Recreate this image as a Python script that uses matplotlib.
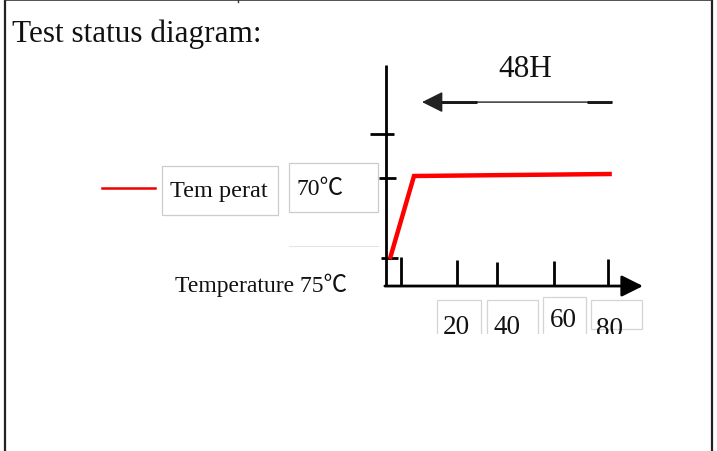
import matplotlib
matplotlib.use('Agg')
import matplotlib.pyplot as plt
from matplotlib.patches import Rectangle

# temperature profile (hours, deg C)
hours = [1.4, 10.1, 81.4]
temps = [17.5, 71.3, 72.6]
x_ticks = [5.4, 25.6, 40.0, 60.5, 80.0]
x_tick_len = [18.8, 16.9, 15.6, 16.2, 17.5]
y_ticks = [18.0, 70.0, 98.5]
y_tick_left = [-1.8, -2.5, -5.8]
y_tick_right = [4.3, 3.6, 2.9]
x_labels = ['20', '40', '60', '80']
duration = '48H'
duration_span = [81.4, 13.0]   # arrow drawn right -> left
y_top = 143.2
x_end = 92.6

TITLE = 'Test status diagram:'
SERIF = ['Liberation Serif', 'Noto Sans CJK SC', 'DejaVu Serif']

fig = plt.figure(figsize=(7.17, 4.52), dpi=100)

# layout canvas in pixel units (boxes, captions, frame)
bg = fig.add_axes([0, 0, 1, 1])
bg.set_xlim(0, 717)
bg.set_ylim(452, 0)
bg.axis('off')

# diagram axes in hours / deg C
ax = fig.add_axes([0, 0, 1, 1])
ax.set_xlim(-139.1, 119.3)
ax.set_ylim(-106.9, 186.0)
ax.axis('off')
ax.patch.set_visible(False)

# page frame
bg.plot([5, 5], [0, 452], color='#222222', lw=1.6)
bg.plot([711.5, 711.5], [0, 452], color='#222222', lw=1.6)
bg.plot([5, 711], [1, 1], color='#333333', lw=1.2)
bg.plot([238, 238], [0, 3], color='#333333', lw=1.0)

bg.text(12, 42, TITLE, fontsize=22.5, family=SERIF, va='baseline', ha='left', color='#111111')

# axes of the sketch
ax.plot([0, 0], [0, y_top], color='black', lw=2.0, solid_capstyle='butt')
ax.annotate('', xy=(x_end, 0), xytext=(-0.4, 0),
            arrowprops=dict(arrowstyle='-|>,head_length=1.0,head_width=0.5',
                            mutation_scale=13, lw=2.0, color='black',
                            shrinkA=0, shrinkB=0))
ax.vlines(x_ticks, 0, x_tick_len, color='black', lw=2.0)
ax.hlines(y_ticks, y_tick_left, y_tick_right, color='black', lw=2.0)

# temperature curve
ax.plot(hours, temps, color='#ff0000', lw=3.2, solid_joinstyle='miter', solid_capstyle='butt')

# duration arrow
arrow_y = 119.2
ax.annotate('', xy=(duration_span[1], arrow_y), xytext=(duration_span[0], arrow_y),
            arrowprops=dict(arrowstyle='-|>,head_length=1.0,head_width=0.5',
                            mutation_scale=13, lw=1.0, color='#222222',
                            shrinkA=0, shrinkB=0))
ax.plot([19.0, 32.8], [arrow_y, arrow_y], color='black', lw=2.0, solid_capstyle='butt')
ax.plot([72.4, 81.4], [arrow_y, arrow_y], color='black', lw=2.0, solid_capstyle='butt')
ax.text(sum(duration_span) / 2 + 3.0, 136.0, duration, fontsize=22.5, family=SERIF,
        ha='center', va='baseline', color='#111111')

# legend-ish boxes on the left
bg.plot([102, 155], [189, 189], color='#ee0000', lw=1.8)
bg.add_patch(Rectangle((162, 167), 116, 49, fill=False, ec='#cccccc', lw=0.9))
bg.text(170, 197, 'Tem perat', fontsize=17.5, family=SERIF, va='baseline', color='#111111')
bg.add_patch(Rectangle((289, 164), 89, 49, fill=False, ec='#cccccc', lw=0.9))
bg.text(297, 195, '70\u2103', fontsize=17, family=SERIF, va='baseline', color='#111111')
bg.plot([289, 378], [247, 247], color='#e4e4e4', lw=0.8)
bg.text(175, 292, 'Temperature 75\u2103', fontsize=17, family=SERIF, va='baseline', color='#111111')

# tick label boxes (cut off at the bottom like the scan)
clip = Rectangle((420, 290), 240, 45, transform=bg.transData, visible=False)
bg.add_patch(clip)
boxes = [(437, 301, 44), (487, 301, 51), (543, 298, 43), (591, 301, 51)]
label_x = [456, 506.5, 563.5, 609.5]
label_base = [334, 334, 327, 336]
box_bottom = [345, 345, 345, 330]
for (bx, by, bw), bb, lx, lb, lab in zip(boxes, box_bottom, label_x, label_base, x_labels):
    r = Rectangle((bx, by), bw, bb - by, fill=False, ec='#d4d4d4', lw=0.9)
    bg.add_patch(r)
    r.set_clip_path(clip)
    t = bg.text(lx, lb, lab, fontsize=19.5, family=SERIF, ha='center', va='baseline',
                color='#111111', clip_on=True)
    t.set_clip_path(clip)

fig.savefig('out.png', dpi=100)
